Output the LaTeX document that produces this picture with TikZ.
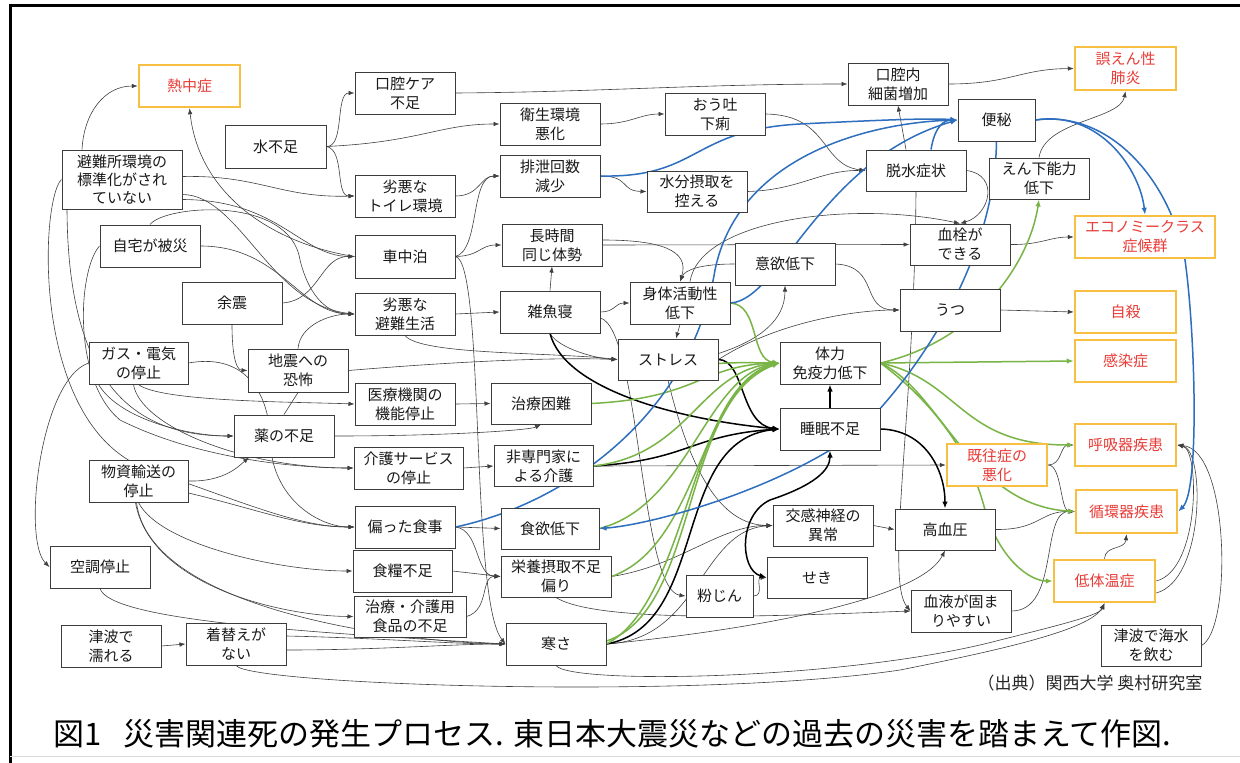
\documentclass[tikz,border=0pt]{standalone}
\usepackage{fontspec}
\newfontfamily\jp{Noto Sans CJK JP}
\usetikzlibrary{arrows.meta,calc,backgrounds}
\definecolor{bx}{RGB}{60,60,60}
\definecolor{org}{RGB}{247,192,66}
\definecolor{rd}{RGB}{232,60,55}
\definecolor{bl}{RGB}{45,110,190}
\definecolor{gn}{RGB}{120,180,70}
\begin{document}
\begin{tikzpicture}[x=1pt,y=-1pt,
 box/.style={draw=bx,line width=1pt,fill=white,minimum width=100pt,minimum height=42pt,inner sep=1pt,align=center,font=\jp\fontsize{15}{19}\selectfont,text=black!90},
 obox/.style={box,draw=org,line width=2.5pt,text=rd},
 e/.style={draw=black!75,line width=0.6pt,-{Latex[length=6pt,width=4.5pt]}},
 ln/.style={draw=black!75,line width=0.6pt},
 tk/.style={draw=black,line width=1.5pt,-{Latex[length=7pt,width=5.5pt]}},
 tkb/.style={draw=black,line width=1.5pt,{Latex[length=7pt,width=5.5pt]}-{Latex[length=7pt,width=5.5pt]}},
 g/.style={draw=gn,line width=1.5pt,-{Latex[length=7pt,width=5.5pt]}},
 b/.style={draw=bl,line width=1.5pt,-{Latex[length=7pt,width=5.5pt]}}]
\useasboundingbox (0,0) rectangle (1240,763);
\draw[line width=3pt] (10,763) -- (10,5) -- (1240,5);
\draw[black!15,line width=1pt] (10,756) -- (1240,756);

% nodes
\node[obox,minimum width=101pt] (netchu) at (189.5,86) {熱中症};
\node[box] (koukou) at (405,93) {口腔ケア\\不足};
\node[box,minimum width=101pt,minimum height=43pt] (mizu) at (275.5,146.5) {水不足};
\node[box,minimum width=120pt,minimum height=59pt,font=\jp\fontsize{15}{18}\selectfont] (hinan) at (122,179.5) {避難所環境の\\標準化がされ\\ていない};
\node[box] (toilet) at (405,196) {劣悪な\\トイレ環境};
\node[box] (jitaku) at (150,246) {自宅が被災};
\node[box,minimum height=43pt] (shachu) at (405,256.5) {車中泊};
\node[box] (yoshin) at (232,303) {余震};
\node[box] (akuretsu) at (405,314) {劣悪な\\避難生活};
\node[box,minimum width=99pt] (gas) at (138.5,363) {ガス・電気\\の停止};
\node[box,minimum height=43pt] (kyoufu) at (298,370.5) {地震への\\恐怖};
\node[box] (iryou) at (405,404) {医療機関の\\機能停止};
\node[box] (kusuri) at (284,436) {薬の不足};
\node[box,minimum width=109pt] (kaigo) at (408.5,468) {介護サービス\\の停止};
\node[box,minimum width=99pt] (busshi) at (138.5,481) {物資輸送の\\停止};
\node[box] (katayotta) at (405,527) {偏った食事};
\node[box] (kuchou) at (100,567) {空調停止};
\node[box,minimum width=99pt] (shokuryou) at (402.5,571) {食糧不足};
\node[box,minimum width=112pt,minimum height=41pt] (chiryoushoku) at (410,616.5) {治療・介護用\\食品の不足};
\node[box] (tsunami) at (111,646) {津波で\\濡れる};
\node[box] (kigae) at (236,644) {着替えが\\ない};
\node[box] (eisei) at (550,124) {衛生環境\\悪化};
\node[box] (outo) at (715,114) {おう吐\\下痢};
\node[box] (haisetsu) at (550,176) {排泄回数\\減少};
\node[box,minimum height=41pt] (suibun) at (697,191.5) {水分摂取を\\控える};
\node[box] (choujikan) at (552,245) {長時間\\同じ体勢};
\node[box] (zakone) at (550,312) {雑魚寝};
\node[box,minimum height=41pt] (chiryou) at (541,403.5) {治療困難};
\node[box,minimum width=99pt,minimum height=41pt] (hisenmon) at (543.5,466) {非専門家に\\よる介護};
\node[box,minimum width=98pt,minimum height=41pt] (shokuyoku) at (550,528.5) {食欲低下};
\node[box,minimum width=110pt,minimum height=41pt] (eiyou) at (556,576.5) {栄養摂取不足\\偏り};
\node[box] (samusa) at (556,644) {寒さ};
\node[box] (shintai) at (680,303) {身体活動性\\低下};
\node[box,minimum height=41pt] (stress) at (668,359.5) {ストレス};
\node[box] (iyoku) at (785,264) {意欲低下};
\node[box] (tairyoku) at (830,363) {体力\\免疫力低下};
\node[box] (suimin) at (830,429) {睡眠不足};
\node[box,minimum height=41pt] (koukan) at (823,525.5) {交感神経の\\異常};
\node[box,minimum height=41pt] (seki) at (817,577.5) {せき};
\node[box,minimum width=67pt] (funjin) at (719.5,596) {粉じん};
\node[box,minimum height=41pt] (kouketsuatsu) at (945,529.5) {高血圧};
\node[box] (ketsueki) at (961,611) {血液が固ま\\りやすい};
\node[box] (saikin) at (898,84) {口腔内\\細菌増加};
\node[box,minimum width=77pt] (benpi) at (996.5,120) {便秘};
\node[box,minimum height=41pt] (dassui) at (916,170.5) {脱水症状};
\node[box,minimum height=41pt] (enge) at (1039,178.5) {えん下能力\\低下};
\node[box,minimum height=41pt] (kessen) at (960,244.5) {血栓が\\できる};
\node[box] (utsu) at (950,310) {うつ};
\node[obox] (kiousho) at (997,465) {既往症の\\悪化};
\node[obox,minimum width=101pt,minimum height=43pt] (goen) at (1125.5,68.5) {誤えん性\\肺炎};
\node[obox,minimum width=140pt] (economy) at (1145,237) {エコノミークラス\\症候群};
\node[obox,minimum width=101pt] (jisatsu) at (1125.5,312) {自殺};
\node[obox,minimum width=101pt] (kansen) at (1125.5,361) {感染症};
\node[obox,minimum width=101pt] (kokyuu) at (1125.5,445) {呼吸器疾患};
\node[obox,minimum width=101pt,minimum height=43pt] (junkan) at (1126.5,511.5) {循環器疾患};
\node[obox,minimum width=101pt] (teitaion) at (1104.5,581) {低体温症};
\node[box,minimum height=41pt] (kaisui) at (1151,645.5) {津波で海水\\を飲む};

\node[anchor=east,font=\jp\fontsize{17}{19}\selectfont,text=black!85] (src) at (1206,683) {（出典）関西大学 奥村研究室};
\node[anchor=west,font=\jp\fontsize{31}{34}\selectfont] (cap) at (50,734) {図1\hspace{0.7em}災害関連死の発生プロセス. 東日本大震災などの過去の災害を踏まえて作図.};

\begin{pgfonlayer}{background}
\fill[white] (0,0) rectangle (1240,763);
% left group
\draw[e] ($(hinan.north)+(-40,0)$) .. controls (84,112) and (105,86) .. (netchu.west);
\draw[e] ($(hinan.east)+(0,-3)$) .. controls (260,175) and (280,198) .. (toilet.west);
\draw[e] ($(hinan.east)+(0,20)$) .. controls (280,200) and (300,256) .. (shachu.west);
\draw[e] ($(hinan.east)+(0,15)$) .. controls (240,195) and (270,305) .. (akuretsu.west);
\draw[e] (hinan.west) .. controls (40,200) and (30,430) .. (150,470) .. controls (250,505) and (300,527) .. (katayotta.west);
\draw[e] ($(hinan.south)+(-55,0)$) .. controls (68,380) and (130,436) .. (kusuri.west);
\draw[e] (jitaku.north) .. controls (165,205) and (290,195) .. (300,260) .. controls (310,300) and (330,314) .. (akuretsu.west);
\draw[e] (jitaku.east) .. controls (280,246) and (300,314) .. (akuretsu.west);
\draw[e] (jitaku.west) .. controls (78,270) and (72,380) .. (120,420) .. controls (200,460) and (300,468) .. (kaigo.west);
\draw[e] (shachu.west) .. controls (280,245) and (200,200) .. (netchu.south);
\draw[e] (yoshin.south) .. controls (232,350) and (235,370) .. (kyoufu.west);
\draw[e] (yoshin.east) .. controls (320,300) and (320,256) .. (shachu.west);
\draw[e] (kyoufu.north) .. controls (300,325) and (330,314) .. (akuretsu.west);
\draw[e] (kyoufu.east) .. controls (450,362) and (550,357) .. (stress.west);
\draw[ln] (kyoufu.south) -- (kusuri.north);
\draw[e] (gas.east) .. controls (250,352) and (270,400) .. (270,440) .. controls (272,500) and (320,527) .. (katayotta.west);
\draw[e] (gas.south) .. controls (160,402) and (300,402) .. (iryou.west);
\draw[e] ($(gas.south)+(-40,0)$) .. controls (120,420) and (190,436) .. (kusuri.west);
\draw[e] ($(gas.south)+(-5,0)$) .. controls (140,425) and (240,468) .. (kaigo.west);
\draw[e] (gas.west) .. controls (40,380) and (22,540) .. (kuchou.west);
\draw[e] (mizu.east) .. controls (345,147) and (335,93) .. (koukou.west);
\draw[e] (mizu.east) .. controls (420,142) and (440,124) .. (eisei.west);
\draw[e] (mizu.east) .. controls (345,150) and (335,196) .. (toilet.west);
\draw[e] (busshi.east) .. controls (225,482) and (240,465) .. ($(kusuri.south)+(-35,0)$);
\draw[e] (busshi.south) .. controls (160,545) and (280,571) .. (shokuryou.west);
\draw[e] ($(busshi.south)+(-3,0)$) .. controls (150,585) and (280,616) .. (chiryoushoku.west);
\draw[e] ($(busshi.south)+(-2,0)$) .. controls (150,610) and (400,642) .. (samusa.west);
\draw[e] ($(busshi.east)+(0,12)$) .. controls (260,510) and (300,527) .. (katayotta.west);
\draw[e] (kuchou.south) .. controls (110,620) and (300,632) .. (samusa.west);
\draw[e] (tsunami.east) -- (kigae.west);
\draw[e] ($(kigae.east)+(0,-8)$) .. controls (380,638) and (450,644) .. (samusa.west);
\draw[e] ($(kigae.east)+(0,6)$) .. controls (380,650) and (450,644) .. (samusa.west);
\draw[e] (kigae.south) .. controls (250,685) and (700,700) .. (900,670) .. controls (1000,650) and (1090,630) .. (teitaion.south);
\draw[e] (samusa.south) .. controls (570,685) and (850,680) .. (1000,640) .. controls (1060,625) and (1100,615) .. (teitaion.south);
% middle
\draw[e] (koukou.east) .. controls (600,92) and (700,84) .. (saikin.west);
\draw[e] (eisei.east) .. controls (630,124) and (640,114) .. (outo.west);
\draw[e] (toilet.east) .. controls (480,196) and (480,176) .. (haisetsu.west);
\draw[e] (shachu.east) .. controls (480,250) and (470,176) .. (haisetsu.west);
\draw[e] (shachu.east) .. controls (480,256) and (480,245) .. (choujikan.west);
\draw[e] (shachu.east) .. controls (485,262) and (470,600) .. (samusa.west);
\draw[e] (akuretsu.east) -- (zakone.west);
\draw[e] (akuretsu.south) .. controls (420,355) and (550,352) .. (stress.west);
\draw[e] (iryou.east) -- (chiryou.west);
\draw[e] (kusuri.east) .. controls (450,436) and (530,430) .. (chiryou.south);
\draw[e] (kaigo.east) -- (hisenmon.west);
\draw[e] (katayotta.east) -- (shokuyoku.west);
\draw[e] (katayotta.east) .. controls (480,530) and (475,576) .. (eiyou.west);
\draw[e] (shokuryou.east) -- (eiyou.west);
\draw[e] (chiryoushoku.east) .. controls (490,610) and (480,576) .. (eiyou.west);
\draw[e] (zakone.north) -- (choujikan.south);
\draw[e] (zakone.east) .. controls (615,312) and (615,303) .. (shintai.west);
\draw[e] (zakone.south) .. controls (560,350) and (600,359) .. (stress.west);
\draw[e] ($(zakone.east)+(0,6)$) .. controls (640,330) and (640,590) .. (funjin.west);
\draw[e] (haisetsu.east) .. controls (630,176) and (620,191) .. (suibun.west);
\draw[e] (outo.east) .. controls (830,115) and (820,165) .. (dassui.west);
\draw[e] (suibun.east) .. controls (800,190) and (820,170) .. (dassui.west);
\draw[e] (choujikan.east) -- (kessen.west);
\draw[e] ($(choujikan.east)+(0,-5)$) .. controls (660,240) and (690,250) .. (shintai.north);
\draw[e] (iyoku.west) .. controls (700,264) and (685,270) .. (shintai.north);
\draw[e] (shintai.south) -- ($(stress.north)+(8,0)$);
\draw[e] ($(shintai.north)+(10,0)$) .. controls (700,220) and (850,200) .. (kessen.north);
\draw[e] (stress.east) .. controls (780,320) and (860,310) .. (utsu.west);
\draw[e] ($(stress.east)+(0,-6)$) .. controls (760,340) and (785,320) .. (iyoku.south);
\draw[e] (iyoku.east) .. controls (880,266) and (860,310) .. (utsu.west);
\draw[e] (stress.south) .. controls (690,470) and (720,525) .. (koukan.west);
\draw[e] ($(dassui.north)+(-10,0)$) -- (saikin.south);
\draw[e] (dassui.east) .. controls (1000,175) and (990,215) .. (kessen.north);
\draw[e] (dassui.south) .. controls (914,420) and (885,580) .. (ketsueki.west);
\draw[e] (saikin.east) .. controls (1010,84) and (1020,69) .. (goen.west);
\draw[e] (enge.north) .. controls (1045,120) and (1120,120) .. (goen.south);
\draw[e] (kessen.east) .. controls (1040,245) and (1050,237) .. (economy.west);
\draw[e] (utsu.east) -- (jisatsu.west);
\draw[e] (koukan.east) -- (kouketsuatsu.west);
\draw[e] (kouketsuatsu.east) .. controls (1040,530) and (1040,511) .. (junkan.west);
\draw[e] (ketsueki.east) .. controls (1060,611) and (1040,511) .. (junkan.west);
\draw[e] (kiousho.east) .. controls (1062,465) and (1060,445) .. (kokyuu.west);
\draw[e] (kiousho.east) .. controls (1062,465) and (1060,511) .. (junkan.west);
\draw[e] (teitaion.north) .. controls (1105,545) and (1125,550) .. (junkan.south);
\draw[e] (teitaion.east) .. controls (1200,570) and (1200,450) .. (kokyuu.east);
\draw[e] ($(teitaion.east)+(0,12)$) .. controls (1205,580) and (1205,450) .. (kokyuu.east);
\draw[e] (kaisui.east) .. controls (1232,630) and (1230,450) .. (kokyuu.east);
\draw[e] (funjin.east) .. controls (765,596) and (755,578) .. (seki.west);
\draw[e] (samusa.east) .. controls (700,640) and (700,530) .. (koukan.west);
\draw[e] (eiyou.east) .. controls (680,566) and (720,525) .. (koukan.west);
\draw[e] (eiyou.south) .. controls (600,625) and (800,615) .. (ketsueki.west);
\draw[e] (samusa.east) .. controls (750,630) and (920,600) .. (kouketsuatsu.south);
\draw[e] (hisenmon.east) -- (kiousho.west);
% thick black
\draw[tk] (zakone.south) .. controls (565,390) and (680,420) .. (suimin.west);
\draw[tk] (stress.east) .. controls (745,360) and (740,425) .. (suimin.west);
\draw[tk] (hisenmon.east) .. controls (690,460) and (690,435) .. (suimin.west);
\draw[tk] (samusa.east) .. controls (710,625) and (670,440) .. (suimin.west);
\draw[tkb] (seki.west) .. controls (740,570) and (738,515) .. (770,500) .. controls (815,485) and (830,470) .. (suimin.south);
\draw[tk] (suimin.north) -- (tairyoku.south);
\draw[tk] (suimin.east) .. controls (925,430) and (945,470) .. (kouketsuatsu.north);
% green
\draw[g] (shintai.east) .. controls (760,305) and (750,360) .. (tairyoku.west);
\draw[g] ($(stress.east)+(0,4)$) .. controls (740,362) and (760,363) .. (tairyoku.west);
\draw[g] (chiryou.east) .. controls (700,398) and (700,365) .. (tairyoku.west);
\draw[g] (hisenmon.east) .. controls (690,455) and (700,370) .. (tairyoku.west);
\draw[g] (shokuyoku.east) .. controls (690,505) and (705,375) .. (tairyoku.west);
\draw[g] (eiyou.east) .. controls (700,545) and (700,385) .. (tairyoku.west);
\draw[g] (samusa.east) .. controls (690,600) and (690,385) .. (tairyoku.west);
\draw[g] ($(samusa.east)+(0,-3)$) .. controls (700,610) and (680,400) .. (tairyoku.west);
\draw[g] (tairyoku.east) -- (kansen.west);
\draw[g] (tairyoku.east) .. controls (980,340) and (1030,260) .. (enge.south);
\draw[g] (tairyoku.east) .. controls (960,380) and (960,445) .. (kokyuu.west);
\draw[g] (tairyoku.east) .. controls (940,390) and (970,505) .. (junkan.west);
\draw[g] (tairyoku.east) .. controls (930,400) and (970,450) .. (985,510) .. controls (1000,560) and (1030,581) .. (teitaion.west);
% blue
\draw[b] (haisetsu.east) .. controls (700,178) and (690,130) .. (800,124) .. controls (880,120) and (930,118) .. (benpi.west);
\draw[b] (katayotta.east) .. controls (560,505) and (690,420) .. (715,270) .. controls (740,150) and (880,122) .. (benpi.west);
\draw[b] (benpi.south) .. controls (995,250) and (930,360) .. (860,430) .. controls (780,490) and (650,525) .. (shokuyoku.east);
\draw[b] (benpi.east) .. controls (1100,110) and (1140,170) .. (economy.north);
\draw[b] (benpi.east) .. controls (1110,110) and (1170,180) .. (1185,260) .. controls (1195,330) and (1200,490) .. (junkan.east);
\draw[b] (shintai.east) .. controls (780,300) and (820,160) .. (benpi.west);
\draw[b] ($(dassui.north)+(15,0)$) .. controls (935,125) and (945,120) .. (benpi.west);
\end{pgfonlayer}
\end{tikzpicture}
\end{document}
